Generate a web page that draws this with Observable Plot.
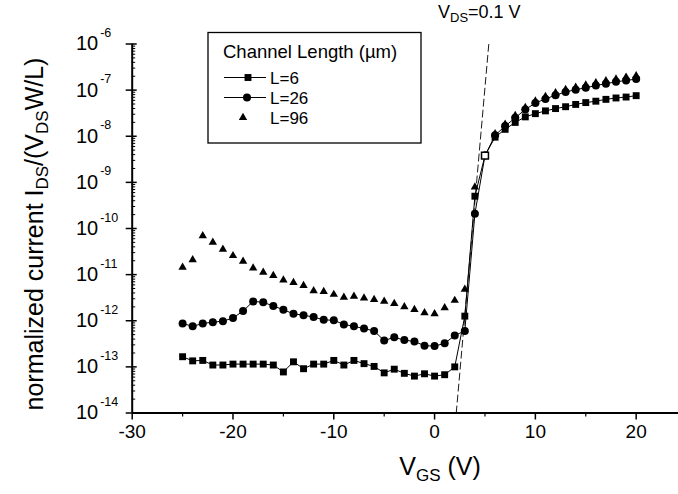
<!DOCTYPE html>
<html><head><meta charset="utf-8">
<script src="https://cdn.jsdelivr.net/npm/d3@7"></script>
<script src="https://cdn.jsdelivr.net/npm/@observablehq/plot@0.6"></script>
<style>
body{margin:0;background:#fff;}
#chart{width:678px;height:494px;}
svg{font-family:"Liberation Sans",Arial,sans-serif;}
</style></head><body><div id="chart"></div>
<script>
// gate voltage sweep (V)
const vgs = [-25,-24,-23,-22,-21,-20,-19,-18,-17,-16,-15,-14,-13,-12,-11,-10,-9,-8,-7,-6,-5,-4,-3,-2,-1,0,1,2,3,4,5,6,7,8,9,10,11,12,13,14,15,16,17,18,19,20];
// log10 of normalized current, L = 6 um (squares)
const logL6 = [-12.78,-12.87,-12.86,-12.96,-12.96,-12.94,-12.94,-12.94,-12.94,-12.96,-13.11,-12.89,-13.04,-12.94,-12.94,-12.86,-12.96,-12.86,-12.93,-12.99,-13.13,-13.05,-13.14,-13.2,-13.15,-13.2,-13.17,-13.0,-11.9,-9.3,-8.42,-8.02,-7.85,-7.7,-7.58,-7.51,-7.45,-7.40,-7.36,-7.31,-7.27,-7.24,-7.20,-7.17,-7.15,-7.12];
// L = 26 um (circles)
const logL26 = [-12.06,-12.12,-12.06,-12.03,-12.01,-11.94,-11.79,-11.58,-11.60,-11.68,-11.76,-11.85,-11.88,-11.92,-11.98,-11.99,-12.08,-12.12,-12.17,-12.22,-12.43,-12.36,-12.42,-12.45,-12.54,-12.55,-12.49,-12.32,-12.22,-9.68,-8.42,-7.98,-7.78,-7.6,-7.42,-7.28,-7.19,-7.11,-7.04,-6.99,-6.95,-6.90,-6.86,-6.82,-6.79,-6.76];
// L = 96 um (triangles)
const logL96 = [-10.84,-10.68,-10.16,-10.30,-10.45,-10.59,-10.71,-10.86,-10.95,-11.02,-11.12,-11.17,-11.24,-11.35,-11.37,-11.43,-11.49,-11.47,-11.51,-11.54,-11.58,-11.63,-11.70,-11.76,-11.83,-11.85,-11.72,-11.56,-11.32,-9.1,-8.42,-7.95,-7.74,-7.55,-7.38,-7.24,-7.14,-7.06,-6.99,-6.94,-6.89,-6.84,-6.80,-6.76,-6.72,-6.69];
// dashed subthreshold-slope guide
const fitVgs = [2.15, 5.4];
const fitLog = [-14, -5.95];
// axis ticks
const yDecades = [-14,-13,-12,-11,-10,-9,-8,-7,-6];
const xMajor = [-30,-20,-10,0,10,20];
const xMinor = [-25,-15,-5,5,15];
const seriesNames = ["L=6","L=26","L=96"];
const legendTitle = "Channel Length (\u00b5m)";
const annotation = ["V","DS","=0.1 V"];

const rows = (arr, name) => vgs.map((v,i)=>({v, I: Math.pow(10, arr[i]), name}));
const r6 = rows(logL6, seriesNames[0]);
const r26 = rows(logL26, seriesNames[1]);
const r96 = rows(logL96, seriesNames[2]);
const fitRows = fitVgs.map((v,i)=>({v, I: Math.pow(10, fitLog[i])}));
const decadeVals = yDecades.map(d => Math.pow(10, d));
const minorVals = [];
yDecades.slice(0,-1).forEach(d => { for (let k=2;k<=9;k++) minorVals.push(k*Math.pow(10,d)); });

const font = "Liberation Sans, Arial, sans-serif";
const plot = Plot.plot({
  width: 678, height: 494,
  marginLeft: 131.7, marginRight: 0, marginTop: 43.5, marginBottom: 81.5,
  x: {domain: [-30, 24.2], axis: null},
  y: {type: "log", domain: [1e-14, 1e-6], axis: null},
  style: {fontFamily: font, background: "white", color: "black", fontSize: "19px"},
  marks: [
    Plot.axisX({ticks: xMajor, tickSize: 7, tickPadding: 4, tickFormat: d => String(d), fontSize: 19, label: null, strokeWidth: 1.5}),
    Plot.axisX({ticks: xMinor, tickSize: 4, tickFormat: () => "", label: null, strokeWidth: 1.2}),
    Plot.axisY({ticks: decadeVals, tickSize: 6, tickFormat: () => "", label: null, strokeWidth: 1.5}),
    Plot.axisY({ticks: decadeVals, tickSize: 5, dx: 5, tickFormat: () => "", label: null, strokeWidth: 1.5}),
    Plot.axisY({ticks: minorVals, tickSize: 3.5, dx: 3.5, tickFormat: () => "", label: null, strokeWidth: 1}),
    Plot.text(yDecades, {y: d => Math.pow(10,d), text: () => "10", frameAnchor: "left", textAnchor: "end", dx: -34, fontSize: 20}),
    Plot.text(yDecades, {y: d => Math.pow(10,d), text: d => String(d), frameAnchor: "left", textAnchor: "start", dx: -32, dy: -11, fontSize: 12.5}),
    Plot.ruleX([-30], {strokeWidth: 2}),
    Plot.ruleY([1e-14], {strokeWidth: 2}),
    Plot.line(fitRows, {x: "v", y: "I", stroke: "black", strokeWidth: 0.9, strokeDasharray: "7,4"}),
    Plot.line(r6, {x: "v", y: "I", stroke: "black", strokeWidth: 1}),
    Plot.line(r26, {x: "v", y: "I", stroke: "black", strokeWidth: 1}),
    Plot.dot(r96, {x: "v", y: "I", symbol: "triangle", r: 3.1, fill: "black"}),
    Plot.dot(r26, {x: "v", y: "I", symbol: "circle", r: 4, fill: "black"}),
    Plot.dot(r6.filter(d => d.v !== 5), {x: "v", y: "I", symbol: "square", r: 3.9, fill: "black"}),
    Plot.dot(r6.filter(d => d.v === 5), {x: "v", y: "I", symbol: "square", r: 3.9, fill: "white", stroke: "black", strokeWidth: 1.5})
  ]
});
document.getElementById("chart").appendChild(plot);

const svg = d3.select(plot);
// y-axis title
const yt = svg.append("text")
  .attr("transform", "translate(43,234) rotate(-90)")
  .attr("text-anchor", "middle").attr("font-size", 25).attr("fill", "black");
yt.append("tspan").text("normalized current I");
yt.append("tspan").text("DS").attr("font-size", 17).attr("dy", 5);
yt.append("tspan").text("/(V").attr("dy", -5);
yt.append("tspan").text("DS").attr("font-size", 17).attr("dy", 5);
yt.append("tspan").text("W/L)").attr("dy", -5);
// x-axis title
const xt = svg.append("text").attr("x", 440).attr("y", 475)
  .attr("text-anchor", "middle").attr("font-size", 25).attr("fill", "black");
xt.append("tspan").text("V");
xt.append("tspan").text("GS").attr("font-size", 17).attr("dy", 6);
xt.append("tspan").text(" (V)").attr("dy", -6);
// annotation
const an = svg.append("text").attr("x", 438).attr("y", 18).attr("text-anchor", "start")
  .attr("font-size", 18).attr("fill", "black");
an.append("tspan").text(annotation[0]);
an.append("tspan").text(annotation[1]).attr("font-size", 13).attr("dy", 4);
an.append("tspan").text(annotation[2]).attr("dy", -4);
// legend
const lg = svg.append("g").attr("text-anchor", "start");
lg.append("rect").attr("x", 208).attr("y", 32.5).attr("width", 213).attr("height", 110.5)
  .attr("fill", "white").attr("stroke", "black").attr("stroke-width", 1.3);
lg.append("text").attr("x", 223).attr("y", 58).attr("font-size", 18.5).attr("text-anchor", "start").text(legendTitle);
const sym = [d3.symbolSquare, d3.symbolCircle, d3.symbolTriangle];
const sizes = [Math.PI*3.9*3.9, Math.PI*16, Math.PI*3.1*3.1];
const mx = [248, 247, 243];
seriesNames.forEach((name, i) => {
  const cy = 77.5 + 20*i;
  if (i < 2) lg.append("line").attr("x1", 224).attr("x2", 266).attr("y1", cy).attr("y2", cy).attr("stroke", "black").attr("stroke-width", 1);
  lg.append("path").attr("d", d3.symbol(sym[i], sizes[i])()).attr("transform", `translate(${mx[i]},${cy})`).attr("fill", "black");
  lg.append("text").attr("x", 270).attr("y", cy + 6).attr("font-size", 17).attr("text-anchor", "start").text(name);
});
</script></body></html>
